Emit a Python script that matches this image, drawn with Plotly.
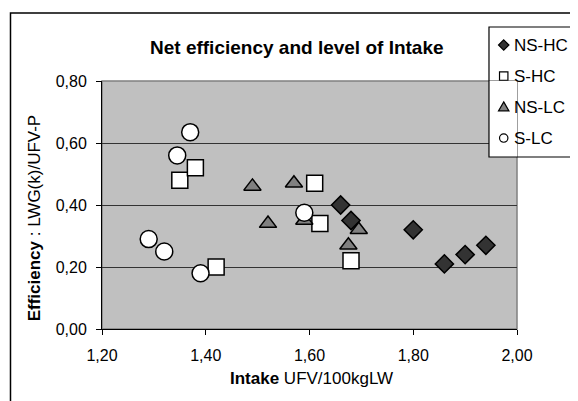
import plotly.graph_objects as go

# Intake (UFV/100kgLW) and net efficiency for each group
ns_hc_x = [1.66, 1.68, 1.80, 1.86, 1.90, 1.94]
ns_hc_y = [0.40, 0.35, 0.32, 0.21, 0.24, 0.27]

s_hc_x = [1.35, 1.38, 1.42, 1.61, 1.62, 1.68]
s_hc_y = [0.48, 0.52, 0.20, 0.47, 0.34, 0.22]

ns_lc_x = [1.49, 1.52, 1.57, 1.59, 1.675, 1.695]
ns_lc_y = [0.46, 0.34, 0.47, 0.35, 0.27, 0.32]

s_lc_x = [1.29, 1.32, 1.345, 1.37, 1.39, 1.59]
s_lc_y = [0.29, 0.25, 0.56, 0.635, 0.18, 0.375]

x_ticks = [1.2, 1.4, 1.6, 1.8, 2.0]
y_ticks = [0.0, 0.2, 0.4, 0.6, 0.8]

series = [
    ("NS-HC", ns_hc_x, ns_hc_y, "diamond", "#333333", 14),
    ("S-HC", s_hc_x, s_hc_y, "square", "white", 16),
    ("NS-LC", ns_lc_x, ns_lc_y, "triangle-up", "#808080", 15),
    ("S-LC", s_lc_x, s_lc_y, "circle", "white", 17),
]

x_range = [1.2, 2.0]
y_range = [0, 0.8]

W, H = 570, 393
M = dict(l=94, r=61, t=73, b=72)
plot_w = W - M["l"] - M["r"]
plot_h = H - M["t"] - M["b"]

font = "Liberation Sans, Arial, sans-serif"

fig = go.Figure()

for name, xs, ys, sym, col, size in series:
    fig.add_trace(go.Scatter(
        x=xs, y=ys, mode="markers", name=name, showlegend=False,
        marker=dict(symbol=sym, color=col, size=size,
                    line=dict(color="black", width=1.5)),
    ))


def to_data_x(p):
    return x_range[0] + p * (x_range[1] - x_range[0])


def to_data_y(p):
    return y_range[0] + p * (y_range[1] - y_range[0])


def legend_symbol(sym, col, cx, cy):
    # small legend glyph drawn as a paper shape, sizes given in pixels
    dx = 1.0 / plot_w
    dy = 1.0 / plot_h
    line = dict(color="black", width=1.2)
    if sym == "circle":
        r = 4.2
        return dict(type="circle", xref="paper", yref="paper",
                    x0=cx - r * dx, x1=cx + r * dx, y0=cy - r * dy, y1=cy + r * dy,
                    fillcolor=col, line=line, layer="above")
    if sym == "square":
        r = 4.2
        return dict(type="rect", xref="paper", yref="paper",
                    x0=cx - r * dx, x1=cx + r * dx, y0=cy - r * dy, y1=cy + r * dy,
                    fillcolor=col, line=line, layer="above")
    if sym == "diamond":
        r = 5.2
        pts = [(0, r), (r, 0), (0, -r), (-r, 0)]
    else:
        pts = [(0, 5.2), (5.2, -3.8), (-5.2, -3.8)]
    path = "M " + " L ".join(f"{cx + a * dx},{cy + b * dy}" for a, b in pts) + " Z"
    return dict(type="path", xref="paper", yref="paper", path=path,
                fillcolor=col, line=line, layer="above")


# hand-made legend box (Excel style)
leg_x0, leg_x1 = 0.9325, 1.1446
leg_top, leg_bottom = 1.2177, 0.6935
row_h = 0.125
sym_x = 0.968
legend_notes = []
legend_shapes = [
    # legend fill where it covers the plot area (clipped to plot)
    dict(type="rect", xref="x", yref="y",
         x0=to_data_x(leg_x0), x1=to_data_x(leg_x1),
         y0=to_data_y(leg_bottom), y1=to_data_y(leg_top),
         fillcolor="white", line=dict(width=0), layer="between"),
    # legend outline
    dict(type="rect", xref="paper", yref="paper",
         x0=leg_x0, x1=leg_x1, y0=leg_bottom, y1=leg_top,
         fillcolor="rgba(0,0,0,0)", line=dict(color="black", width=1.2),
         layer="above"),
]
for i, (name, xs, ys, sym, col, size) in enumerate(series):
    row_y = 1.145 - i * row_h
    legend_shapes.append(legend_symbol(sym, col, sym_x, row_y))
    legend_notes.append(dict(
        text=name, xref="paper", yref="paper", x=0.988, y=row_y,
        xanchor="left", yanchor="middle", showarrow=False,
        font=dict(size=17),
    ))

fig.update_layout(
    width=W, height=H,
    margin=M,
    paper_bgcolor="white",
    plot_bgcolor="#c0c0c0",
    separators=",.",
    font=dict(family=font, size=16, color="black"),
    showlegend=False,
    xaxis=dict(
        range=x_range, tickvals=x_ticks, tickformat=".2f",
        showgrid=False, zeroline=False,
        showline=True, linecolor="black", linewidth=1,
        ticks="outside", ticklen=5, tickcolor="black",
        ticklabelstandoff=7,
    ),
    yaxis=dict(
        range=y_range, tickvals=y_ticks, tickformat=".2f",
        showgrid=True, gridcolor="#333333", gridwidth=1, zeroline=False,
        showline=True, linecolor="black", linewidth=1,
        ticks="outside", ticklen=5, tickcolor="black",
        ticklabelstandoff=6,
    ),
    shapes=[
        # plot area border (grey on top/right)
        dict(type="rect", xref="paper", yref="paper", x0=0, x1=1, y0=0, y1=1,
             line=dict(color="#808080", width=1.5), layer="below"),
        # outer chart frame
        dict(type="rect", xref="paper", yref="paper",
             x0=-0.2205, x1=2, y0=-2, y1=1.274,
             line=dict(color="black", width=1.5)),
    ] + legend_shapes,
    annotations=[
        dict(text="<b>Net efficiency and level of Intake</b>",
             xref="paper", yref="paper", x=0.471, y=1.135,
             xanchor="center", yanchor="middle", showarrow=False,
             font=dict(size=19)),
        dict(text="<b>Efficiency</b> : LWG(k)/UFV-P",
             xref="paper", yref="paper", x=-0.164, y=0.45,
             xanchor="center", yanchor="middle", showarrow=False,
             textangle=-90, font=dict(size=17)),
        dict(text="<b>Intake</b> UFV/100kgLW",
             xref="paper", yref="paper", x=0.504, y=-0.2,
             xanchor="center", yanchor="middle", showarrow=False,
             font=dict(size=17)),
    ] + legend_notes,
)

fig.write_html("out.html")
